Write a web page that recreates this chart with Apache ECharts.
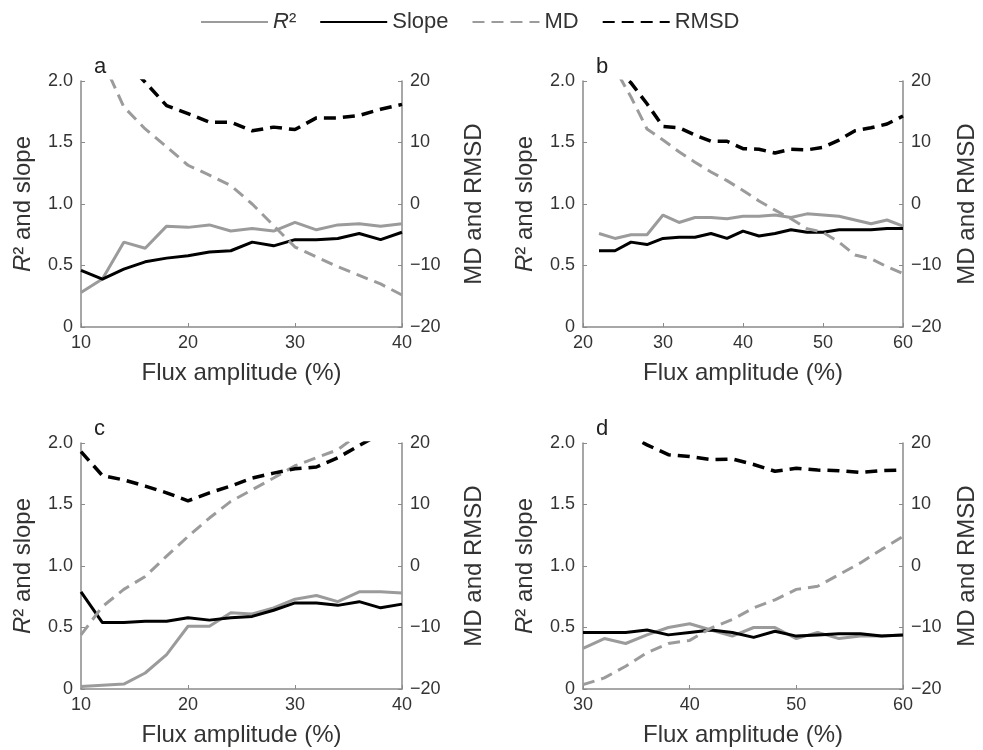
<!DOCTYPE html>
<html>
<head>
<meta charset="utf-8">
<script src="https://cdn.jsdelivr.net/npm/echarts@6/dist/echarts.min.js"></script>
<style>
html, body { margin: 0; padding: 0; background: #fff; }
#chartmain { width: 983px; height: 750px; }
</style>
</head>
<body>
<div id="chartmain"></div>
<script>
// panel a
var xA = [10, 12, 14, 16, 18, 20, 22, 24, 26, 28, 30, 32, 34, 36, 38, 40];
var r2A = [0.28, 0.39, 0.69, 0.64, 0.82, 0.81, 0.83, 0.78, 0.80, 0.78, 0.85, 0.79, 0.83, 0.84, 0.82, 0.84];
var slopeA = [0.46, 0.39, 0.47, 0.53, 0.56, 0.58, 0.61, 0.62, 0.69, 0.66, 0.71, 0.71, 0.72, 0.76, 0.71, 0.77];
var mdA = [null, 23.4, 15.8, 12.2, 9.3, 6.3, 4.7, 3.0, 0.0, -3.5, -7.0, -8.6, -10.2, -11.6, -13.0, -14.8];
var rmsdA = [null, null, 23.4, 19.8, 16.0, 14.7, 13.3, 13.3, 11.9, 12.5, 12.1, 14.0, 14.0, 14.4, 15.4, 16.2];
// panel b
var xB = [22, 24, 26, 28, 30, 32, 34, 36, 38, 40, 42, 44, 46, 48, 50, 52, 54, 56, 58, 60];
var r2B = [0.76, 0.72, 0.75, 0.75, 0.91, 0.85, 0.89, 0.89, 0.88, 0.90, 0.90, 0.91, 0.89, 0.92, 0.91, 0.90, 0.87, 0.84, 0.87, 0.82];
var slopeB = [0.62, 0.62, 0.69, 0.67, 0.72, 0.73, 0.73, 0.76, 0.72, 0.78, 0.74, 0.76, 0.79, 0.77, 0.77, 0.79, 0.79, 0.79, 0.80, 0.80];
var mdB = [26.0, 22.0, 17.4, 12.2, 10.4, 8.5, 6.8, 5.2, 3.8, 2.2, 0.5, -1.0, -2.4, -4.0, -4.6, -6.2, -8.3, -8.9, -10.2, -11.3];
var rmsdB = [null, 22.0, 19.7, 16.3, 12.6, 12.4, 11.2, 10.2, 10.2, 9.0, 8.9, 8.3, 8.9, 8.8, 9.2, 10.4, 11.9, 12.4, 13.0, 14.3];
// panel c
var xC = [10, 12, 14, 16, 18, 20, 22, 24, 26, 28, 30, 32, 34, 36, 38, 40];
var r2C = [0.02, 0.03, 0.04, 0.13, 0.28, 0.51, 0.51, 0.62, 0.61, 0.66, 0.73, 0.76, 0.71, 0.79, 0.79, 0.78];
var slopeC = [0.79, 0.54, 0.54, 0.55, 0.55, 0.58, 0.56, 0.58, 0.59, 0.64, 0.70, 0.70, 0.68, 0.71, 0.66, 0.69];
var mdC = [-11.2, -6.6, -3.8, -1.7, 1.6, 4.8, 7.8, 10.5, 12.4, 14.3, 16.3, 17.6, 18.9, 21.5, 23.0, 24.5];
var rmsdC = [18.6, 14.7, 14.0, 13.0, 11.9, 10.6, 11.9, 13.0, 14.3, 15.1, 15.8, 16.1, 17.6, 19.6, 21.5, 23.0];
// panel d
var xD = [30, 32, 34, 36, 38, 40, 42, 44, 46, 48, 50, 52, 54, 56, 58, 60];
var r2D = [0.33, 0.41, 0.37, 0.44, 0.50, 0.53, 0.48, 0.43, 0.50, 0.50, 0.41, 0.46, 0.41, 0.43, 0.43, 0.44];
var slopeD = [0.46, 0.46, 0.46, 0.48, 0.44, 0.46, 0.48, 0.46, 0.42, 0.47, 0.43, 0.44, 0.45, 0.45, 0.43, 0.44];
var mdD = [-19.3, -18.2, -16.3, -14.1, -12.6, -12.1, -10.1, -8.7, -6.8, -5.5, -3.8, -3.3, -1.4, 0.5, 2.7, 4.8];
var rmsdD = [null, null, 21.5, 19.7, 18.1, 17.8, 17.3, 17.4, 16.5, 15.4, 15.9, 15.6, 15.5, 15.2, 15.5, 15.6];

var panelLetters = ['a', 'b', 'c', 'd'];
var xRanges = [[10, 40], [20, 60], [10, 40], [30, 60]];

var grey = '#9b9b9b';
var axisGrey = '#8a8a8a';
var textCol = '#333';
var fontFam = '"Liberation Sans", Arial, Helvetica, sans-serif';

var panels = [
    { x: xA, r2: r2A, slope: slopeA, md: mdA, rmsd: rmsdA },
    { x: xB, r2: r2B, slope: slopeB, md: mdB, rmsd: rmsdB },
    { x: xC, r2: r2C, slope: slopeC, md: mdC, rmsd: rmsdC },
    { x: xD, r2: r2D, slope: slopeD, md: mdD, rmsd: rmsdD }
];
var gridPos = [
    { left: 81, top: 81, width: 321, height: 246 },
    { left: 583, top: 81, width: 320, height: 246 },
    { left: 81, top: 443, width: 321, height: 246 },
    { left: 583, top: 443, width: 320, height: 246 }
];

function pairs(xs, ys) {
    var out = [];
    for (var i = 0; i < xs.length; i++) {
        if (ys[i] !== null) out.push([xs[i], ys[i]]);
    }
    return out;
}

var grids = [], xAxes = [], yAxes = [], series = [], titles = [];
for (var i = 0; i < 4; i++) {
    var p = panels[i];
    grids.push(gridPos[i]);
    titles.push({
        text: panelLetters[i],
        left: gridPos[i].left + 8,
        top: gridPos[i].top - 30,
        textStyle: { fontFamily: fontFam, fontSize: 22, fontWeight: 'normal', color: '#222' }
    });
    xAxes.push({
        gridIndex: i,
        type: 'value',
        min: xRanges[i][0],
        max: xRanges[i][1],
        interval: 10,
        name: 'Flux amplitude (%)',
        nameLocation: 'middle',
        nameGap: 34,
        nameTextStyle: { fontFamily: fontFam, fontSize: 24, color: textCol },
        axisLine: { lineStyle: { color: axisGrey, width: 1.5 } },
        axisTick: { inside: true, length: 4, lineStyle: { color: axisGrey } },
        axisLabel: { margin: 7, fontFamily: fontFam, fontSize: 18, color: textCol },
        splitLine: { show: false }
    });
    yAxes.push({
        gridIndex: i,
        type: 'value',
        position: 'left',
        min: 0,
        max: 2,
        interval: 0.5,
        name: '{i|R}² and slope',
        nameLocation: 'middle',
        nameRotate: 90,
        nameGap: 46,
        nameTextStyle: {
            fontFamily: fontFam, fontSize: 24, color: textCol,
            rich: { i: { fontFamily: fontFam, fontSize: 24, fontStyle: 'italic', color: textCol } }
        },
        axisLine: { show: true, lineStyle: { color: axisGrey, width: 1.5 } },
        axisTick: { show: true, inside: true, length: 4, lineStyle: { color: axisGrey } },
        axisLabel: {
            margin: 8, fontFamily: fontFam, fontSize: 18, color: textCol,
            formatter: function (v) { return v === 0 ? '0' : v.toFixed(1); }
        },
        splitLine: { show: false }
    });
    yAxes.push({
        gridIndex: i,
        type: 'value',
        position: 'right',
        min: -20,
        max: 20,
        interval: 10,
        name: 'MD and RMSD',
        nameLocation: 'middle',
        nameRotate: 90,
        nameGap: (i % 2 === 0) ? 60 : 52,
        nameTextStyle: { fontFamily: fontFam, fontSize: 24, color: textCol },
        axisLine: { show: true, lineStyle: { color: axisGrey, width: 1.5 } },
        axisTick: { show: true, inside: true, length: 4, lineStyle: { color: axisGrey } },
        axisLabel: {
            margin: 8, fontFamily: fontFam, fontSize: 18, color: textCol,
            formatter: function (v) { return v < 0 ? '\u2212' + (-v) : String(v); }
        },
        splitLine: { show: false }
    });
    var common = { type: 'line', xAxisIndex: i, symbol: 'none', silent: true, animation: false };
    series.push(Object.assign({}, common, {
        name: 'R²', yAxisIndex: 2 * i, data: pairs(p.x, p.r2),
        lineStyle: { color: grey, width: 3 }, itemStyle: { color: grey }
    }));
    series.push(Object.assign({}, common, {
        name: 'Slope', yAxisIndex: 2 * i, data: pairs(p.x, p.slope),
        lineStyle: { color: '#000', width: 3 }, itemStyle: { color: '#000' }
    }));
    series.push(Object.assign({}, common, {
        name: 'MD', yAxisIndex: 2 * i + 1, data: pairs(p.x, p.md),
        lineStyle: { color: grey, width: 3, type: [12, 7] }, itemStyle: { color: grey }
    }));
    series.push(Object.assign({}, common, {
        name: 'RMSD', yAxisIndex: 2 * i + 1, data: pairs(p.x, p.rmsd),
        lineStyle: { color: '#000', width: 3.5, type: [12, 7] }, itemStyle: { color: '#000' }
    }));
}

var option = {
    backgroundColor: '#fff',
    animation: false,
    title: titles,
    legend: {
        left: 195,
        top: 6,
        itemWidth: 67,
        itemHeight: 14,
        itemGap: 23,
        data: ['R²', 'Slope', 'MD', 'RMSD'],
        itemStyle: { opacity: 0 },
        formatter: function (name) {
            return name === 'R²' ? '{i|R}²' : name;
        },
        textStyle: {
            fontFamily: fontFam, fontSize: 22, color: textCol,
            rich: { i: { fontFamily: fontFam, fontSize: 22, fontStyle: 'italic', color: textCol } }
        }
    },
    grid: grids,
    xAxis: xAxes,
    yAxis: yAxes,
    series: series
};

var myChart = echarts.init(document.getElementById('chartmain'));
myChart.setOption(option);
</script>
</body>
</html>
